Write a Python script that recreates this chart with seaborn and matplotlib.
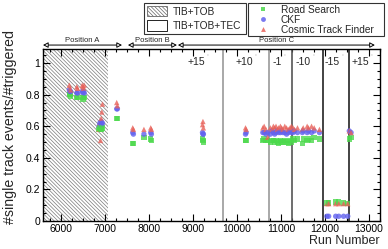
import matplotlib
matplotlib.use("Agg")
import matplotlib.pyplot as plt
import seaborn as sns
import pandas as pd
import numpy as np
from matplotlib.patches import Patch, FancyArrowPatch
from matplotlib.lines import Line2D
from matplotlib.ticker import MultipleLocator

# ---------------- data ----------------
runs = [6180, 6195, 6210, 6350, 6365, 6475, 6490, 6505, 6520,
        6860, 6875, 6890, 6905, 6920, 6935,
        7260, 7275,
        7625, 7640, 7880, 8035, 8050,
        9215, 9225, 9235, 10195, 10210,
        10590, 10620, 10660, 10700, 10760, 10800, 10830, 10860, 10890, 10920,
        10950, 10990, 11020, 11050, 11090, 11130, 11170, 11210, 11240, 11280,
        11310, 11380, 11490, 11510, 11600, 11630, 11700, 11760, 11880,
        12050, 12090, 12250, 12320, 12430, 12525,
        12560, 12600]

road_search = [0.80, 0.80, 0.79, 0.78, 0.78, 0.78, 0.77, 0.78, 0.78,
               0.58, 0.59, 0.58, 0.59, 0.58, 0.59,
               0.65, 0.65,
               0.49, 0.49, 0.53, 0.52, 0.51,
               0.52, 0.51, 0.50, 0.51, 0.51,
               0.51, 0.52, 0.51, 0.51, 0.50, 0.51, 0.51, 0.50, 0.51, 0.50,
               0.49, 0.51, 0.50, 0.50, 0.51, 0.50, 0.49, 0.51, 0.50, 0.52,
               0.51, 0.52, 0.49, 0.52, 0.51, 0.52, 0.51, 0.53, 0.52,
               0.115, 0.115, 0.12, 0.12, 0.115, 0.11,
               0.52, 0.53]

ckf = [0.83, 0.82, 0.82, 0.81, 0.81, 0.82, 0.81, 0.82, 0.81,
       0.60, 0.62, 0.61, 0.63, 0.61, 0.62,
       0.71, 0.71,
       0.56, 0.55, 0.55, 0.56, 0.55,
       0.56, 0.55, 0.55, 0.55, 0.56,
       0.56, 0.56, 0.55, 0.56, 0.55, 0.57, 0.56, 0.55, 0.56, 0.57,
       0.56, 0.56, 0.57, 0.56, 0.56, 0.55, 0.56, 0.57, 0.56, 0.56,
       0.57, 0.56, 0.56, 0.57, 0.56, 0.57, 0.56, 0.57, 0.56,
       0.03, 0.03, 0.03, 0.03, 0.03, 0.03,
       0.57, 0.56]

ctf = [0.86, 0.84, 0.83, 0.85, 0.84, 0.86, 0.85, 0.84, 0.86,
       0.58, 0.62, 0.51, 0.65, 0.69, 0.74,
       0.75, 0.73,
       0.59, 0.58, 0.58, 0.59, 0.58,
       0.61, 0.63, 0.59, 0.59, 0.58,
       0.59, 0.60, 0.58, 0.53, 0.59, 0.58, 0.60, 0.59, 0.60, 0.58,
       0.59, 0.60, 0.59, 0.58, 0.60, 0.59, 0.58, 0.59, 0.60, 0.59,
       0.58, 0.59, 0.58, 0.59, 0.60, 0.59, 0.60, 0.59, 0.58,
       0.11, 0.11, 0.11, 0.11, 0.11, 0.11,
       0.57, 0.56]

algorithms = ["Road Search", "CKF", "Cosmic Track Finder"]
colors = ["#4cd94c", "#6262ee", "#e8625a"]
markers = ["s", "o", "^"]

angle_labels = ["+15", "+10", "-1", "-10", "-15", "+15"]
angle_label_x = [9065, 10159, 10911, 11503, 12164, 12801]
boundaries = [9680, 10728, 11252, 11958, 12551]
boundary_colors = ["#9a9a9a", "#9a9a9a", "#555555", "#222222", "#222222"]

positions = ["Position A", "Position B", "Position C"]
position_ranges = [(5580, 7380), (7516, 8632), (8655, 13143)]

hatched_range = (5580, 7070)

# ---------------- figure ----------------
sns.set_theme(style="ticks")
plt.rcParams["font.family"] = ["Liberation Sans", "DejaVu Sans"]
plt.rcParams["hatch.linewidth"] = 0.5
plt.rcParams["hatch.color"] = "#7a7a7a"

fig = plt.figure(figsize=(3.88, 2.49), dpi=100)
ax = fig.add_axes([43/388, 1-221/249, (380-43)/388, (221-49)/249])

xmin, xmax = 5580, 13260
ymin, ymax = 0.0, 1.089

hatch = "\\" * 9
ax.axvspan(hatched_range[0], hatched_range[1], facecolor="white",
           edgecolor="#7a7a7a", hatch=hatch, lw=0, zorder=0)

for b, c in zip(boundaries, boundary_colors):
    ax.axvline(b, color=c, lw=1.2, zorder=1)

rows = []
for r, a, b, c in zip(runs, road_search, ckf, ctf):
    rows.append((r, a, algorithms[0]))
    rows.append((r, b, algorithms[1]))
    rows.append((r, c, algorithms[2]))
df = pd.DataFrame(rows, columns=["run", "fraction", "algorithm"])

sns.scatterplot(data=df, x="run", y="fraction", hue="algorithm", style="algorithm",
                hue_order=algorithms, style_order=algorithms,
                palette=dict(zip(algorithms, colors)),
                markers=dict(zip(algorithms, markers)),
                s=15, linewidth=0, alpha=0.8, legend=False, ax=ax, zorder=3)

ax.set_xlim(xmin, xmax)
ax.set_ylim(ymin, ymax)
ax.xaxis.set_major_locator(MultipleLocator(1000))
ax.xaxis.set_minor_locator(MultipleLocator(250))
ax.yaxis.set_major_locator(MultipleLocator(0.2))
ax.yaxis.set_minor_locator(MultipleLocator(0.05))
ax.set_yticks([0, 0.2, 0.4, 0.6, 0.8, 1.0])
ax.set_yticklabels(["0", "0.2", "0.4", "0.6", "0.8", "1"])
ax.tick_params(which="both", direction="in", top=True, right=True, labelsize=7.5,
               colors="black", width=0.8, pad=2)
ax.tick_params(which="major", length=5)
ax.tick_params(which="minor", length=2.5)
for s in ax.spines.values():
    s.set_linewidth(1.0)
    s.set_color("black")

ax.set_xlabel("")
ax.set_ylabel("")
fig.text(380/388, 1-241/249, "Run Number", ha="right", va="center", fontsize=9)
fig.text(10/388, 1-127/249, "#single track events/#triggered", rotation=90,
         ha="center", va="center", fontsize=10.2)

for lab, x in zip(angle_labels, angle_label_x):
    t = ax.text(x, 1.006, lab, ha="center", va="center", fontsize=7.5, zorder=4)
    ax.annotate("°", xy=(1.0, 1.0), xycoords=t, xytext=(1.5, 0), textcoords="offset points",
                ha="left", va="center", fontsize=3.5, color="#999999")

for lab, (x0, x1) in zip(positions, position_ranges):
    arr = FancyArrowPatch((x0, 1.114), (x1, 1.114), arrowstyle="<|-|>,head_length=3,head_width=1.6",
                          transform=ax.transData, fc="white", ec="black", lw=0.7,
                          clip_on=False, shrinkA=0, shrinkB=0, mutation_scale=1)
    ax.add_patch(arr)
    ax.text((x0 + x1) / 2, 1.12, lab, ha="center", va="bottom", fontsize=5.5,
            clip_on=False)

# legends
h1 = [Patch(facecolor="white", edgecolor="#666666", hatch=hatch, lw=0.6),
      Patch(facecolor="white", edgecolor="black", lw=0.6)]
leg1 = fig.legend(h1, ["TIB+TOB", "TIB+TOB+TEC"], loc="upper left",
                  bbox_to_anchor=(144/388, 1-3/249, (246-144)/388, 0), mode="expand",
                  fontsize=7.3, frameon=True, fancybox=False, edgecolor="black",
                  handlelength=2.0, handleheight=1.2, labelspacing=0.35,
                  borderpad=0.3, handletextpad=0.5, borderaxespad=0)
leg1.get_frame().set_linewidth(0.8)

h2 = [Line2D([], [], ls="", marker=m, color=c, markersize=3.5, alpha=0.85, markeredgewidth=0)
      for m, c in zip(markers, colors)]
leg2 = fig.legend(h2, algorithms, loc="upper left",
                  bbox_to_anchor=(248/388, 1-3/249, (384-248)/388, 0), mode="expand",
                  fontsize=7.3, frameon=True, fancybox=False, edgecolor="black",
                  handlelength=2.6, labelspacing=0.0, borderpad=0.15,
                  handletextpad=0.5, borderaxespad=0)
leg2.get_frame().set_linewidth(0.8)

fig.savefig("out.png", dpi=100)
